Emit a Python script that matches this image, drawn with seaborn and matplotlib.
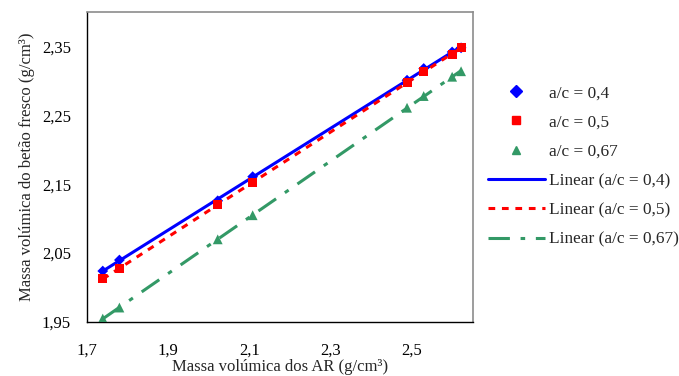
import numpy as np
import pandas as pd
import matplotlib
matplotlib.use("Agg")
import matplotlib.pyplot as plt
import seaborn as sns
from matplotlib.lines import Line2D

# Data
ar_density = [1.739, 1.780, 2.022, 2.108, 2.488, 2.529, 2.599, 2.621]
fresh_ac04 = [2.024, 2.040, 2.126, 2.161, 2.301, 2.318, 2.342, 2.348]
fresh_ac05 = [2.013, 2.027, 2.120, 2.153, 2.298, 2.314, 2.338, 2.348]
fresh_ac067 = [1.955, 1.971, 2.070, 2.105, 2.261, 2.278, 2.306, 2.314]

series_names = ["a/c = 0,4", "a/c = 0,5", "a/c = 0,67"]
fit_names = ["Linear (a/c = 0,4)", "Linear (a/c = 0,5)", "Linear (a/c = 0,67)"]

x_ticks = [1.7, 1.9, 2.1, 2.3, 2.5]
x_tick_labels = ["1,7", "1,9", "2,1", "2,3", "2,5"]
y_ticks = [1.95, 2.05, 2.15, 2.25, 2.35]
y_tick_labels = ["1,95", "2,05", "2,15", "2,25", "2,35"]

colors = ["#0000FF", "#FF0000", "#339966"]
markers = ["D", "s", "^"]
marker_sizes = [30, 42, 50]
line_styles = ["-", (0, (2.2, 2.2)), (0, (7, 3.5, 1.5, 3.5))]

sns.set_style("white")
plt.rcParams["font.family"] = ["Liberation Serif", "DejaVu Serif"]
plt.rcParams["font.size"] = 12

fig = plt.figure(figsize=(6.79, 3.76), dpi=100)
ax = fig.add_axes([0.128, 0.1436, 0.569, 0.8245])

ys = [fresh_ac04, fresh_ac05, fresh_ac067]
handles = []
for i, y in enumerate(ys):
    df = pd.DataFrame({"x": ar_density, "y": y})
    sns.regplot(data=df, x="x", y="y", ax=ax, scatter=False, ci=None,
                truncate=True,
                line_kws=dict(color=colors[i], linestyle=line_styles[i], lw=2.2))
for i, y in enumerate(ys):
    df = pd.DataFrame({"x": ar_density, "y": y})
    sns.scatterplot(data=df, x="x", y="y", ax=ax, marker=markers[i],
                    color=colors[i], s=marker_sizes[i], edgecolor="none",
                    zorder=3)

for i in range(3):
    handles.append(Line2D([], [], linestyle="none", marker=markers[i],
                          color=colors[i], markersize=6, label=series_names[i]))
for i in range(3):
    handles.append(Line2D([], [], color=colors[i], linestyle=line_styles[i],
                          lw=2.2, label=fit_names[i]))

ax.set_xlim(1.7, 2.651)
ax.set_ylim(1.95, 2.40)
ax.set_xticks(x_ticks)
ax.set_xticklabels(x_tick_labels)
ax.set_yticks(y_ticks)
ax.set_yticklabels(y_tick_labels)
ax.tick_params(axis="both", direction="out", width=1, colors="black",
               labelsize=12)
ax.tick_params(axis="x", length=3, pad=12)
ax.tick_params(axis="y", length=4.5, pad=7)

for side in ["left", "bottom"]:
    ax.spines[side].set_color("black")
    ax.spines[side].set_linewidth(1)
for side in ["top", "right"]:
    ax.spines[side].set_color("#8c8c8c")
    ax.spines[side].set_linewidth(1.2)

ax.set_xlabel("Massa volúmica dos AR (g/cm³)", fontsize=12, labelpad=0)
ax.set_ylabel("Massa volúmica do betão fresco (g/cm³)", fontsize=12, labelpad=5)

fig.legend(handles=handles, loc="upper left", bbox_to_anchor=(0.7085, 0.792),
           frameon=False, fontsize=12.4, handlelength=3.3, handletextpad=0.23,
           labelspacing=0.77, borderaxespad=0)

fig.savefig("out.png", dpi=100)
